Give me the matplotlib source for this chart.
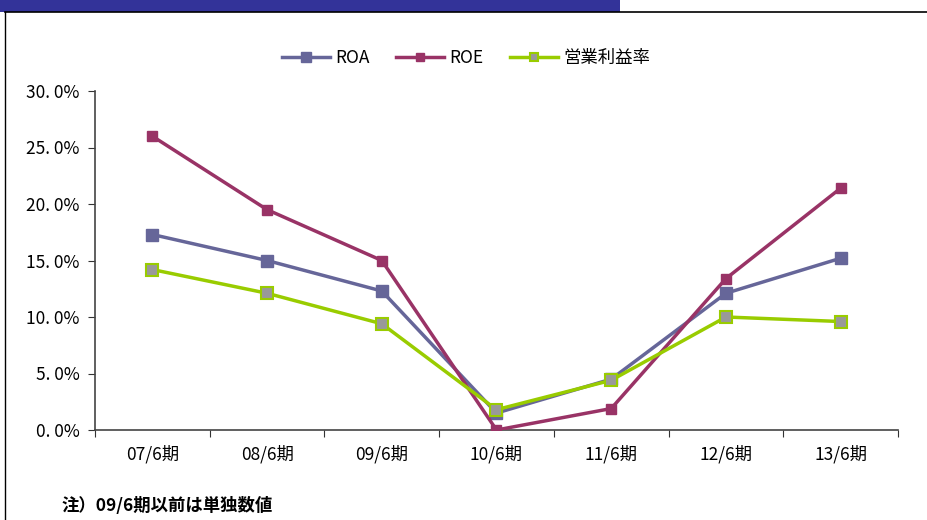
import matplotlib
matplotlib.use("Agg")
import matplotlib.pyplot as plt
from matplotlib.patches import Rectangle
from matplotlib.lines import Line2D
from matplotlib.ticker import FuncFormatter, FixedLocator

plt.rcParams['font.family'] = ['Noto Sans CJK JP', 'DejaVu Sans']

categories = ["07/6期", "08/6期", "09/6期", "10/6期", "11/6期", "12/6期", "13/6期"]
roa = [17.3, 15.0, 12.3, 1.5, 4.5, 12.1, 15.2]
roe = [26.0, 19.5, 15.0, 0.0, 1.9, 13.4, 21.4]
op_margin = [14.2, 12.1, 9.4, 1.8, 4.4, 10.0, 9.6]
series_names = ["ROA", "ROE", "営業利益率"]
note = "注）09/6期以前は単独数値"

fig = plt.figure(figsize=(9.28, 5.2), dpi=100)
W, H = 928, 520

# top banner and frame
fig.patches.append(Rectangle((0, 1 - 12 / H), 620 / W, 12 / H, transform=fig.transFigure,
                             facecolor="#333399", edgecolor="none"))
fig.lines.append(Line2D([5 / W, 1], [1 - 12 / H, 1 - 12 / H], transform=fig.transFigure,
                        color="black", lw=1.2))
fig.lines.append(Line2D([5 / W, 5 / W], [0, 1 - 12 / H], transform=fig.transFigure,
                        color="black", lw=1.0))

ax = fig.add_axes([95 / W, 1 - 430 / H, (898 - 95) / W, (430 - 91) / H])
x = list(range(len(categories)))

ax.plot(x, roa, color="#666699", lw=2.5, marker="s", ms=9, mfc="#666699", mec="#666699",
        label=series_names[0], zorder=3)
ax.plot(x, roe, color="#993366", lw=2.5, marker="s", ms=7, mfc="#993366", mec="#993366",
        label=series_names[1], zorder=4)
ax.plot(x, op_margin, color="#99CC00", lw=2.5, marker="s", ms=8, mfc="#999999", mec="#99CC00",
        mew=1.5, label=series_names[2], zorder=5)

ax.set_xlim(-0.5, len(categories) - 0.5)
ax.set_ylim(0, 30)
ax.set_yticks([0, 5, 10, 15, 20, 25, 30])
ax.yaxis.set_major_formatter(FuncFormatter(lambda v, p: f"{v:.1f}%".replace(".", ". ")))
ax.xaxis.set_major_locator(FixedLocator([i - 0.5 for i in range(len(categories) + 1)]))
ax.xaxis.set_major_formatter(FuncFormatter(lambda v, p: ""))
ax.set_xticks(x, minor=True)
ax.set_xticklabels(categories, minor=True)
ax.tick_params(axis="x", which="minor", length=0, pad=11, labelsize=12.5)
ax.tick_params(axis="x", which="major", length=5, direction="out", color="#333333")
ax.tick_params(axis="y", length=5, direction="out", labelsize=12.5, pad=6, color="#333333")
for s in ["top", "right"]:
    ax.spines[s].set_visible(False)
for s in ["left", "bottom"]:
    ax.spines[s].set_color("#444444")
    ax.spines[s].set_linewidth(1.2)
ax.set_facecolor("none")

leg = ax.legend(loc="center", bbox_to_anchor=(466 / W, 1 - 58 / H), bbox_transform=fig.transFigure,
                ncol=3, frameon=False, columnspacing=1.5, handlelength=2.8,
                handletextpad=0.3, markerscale=0.8, prop={'size': 12.5})

fig.text(62 / W, 1 - 506 / H, note, fontsize=12.5, fontweight="bold", va="center", ha="left")

fig.savefig("out.png", dpi=100)
